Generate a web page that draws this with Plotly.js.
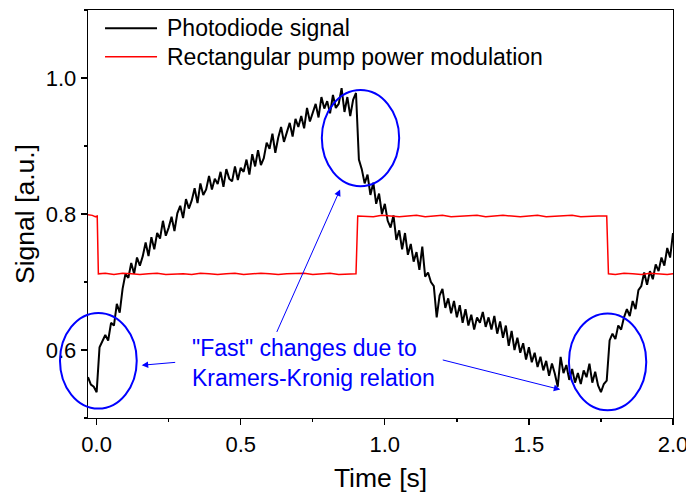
<!DOCTYPE html>
<html>
<head>
<meta charset="utf-8">
<script src="https://cdn.plot.ly/plotly-3.0.1.min.js"></script>
<style>
  html, body { margin: 0; padding: 0; background: #ffffff; }
  #chart { width: 686px; height: 493px; }
</style>
</head>
<body>
<div id="chart"></div>
<script>
// ---------- data ----------
const seriesNames = ["Photodiode signal", "Rectangular pump power modulation"];

const photoTime = [
  -0.03, -0.02, -0.01,
  0.00, 0.01, 0.02, 0.03, 0.04, 0.05, 0.06, 0.07, 0.08, 0.09,
  0.10, 0.11, 0.12, 0.13, 0.14, 0.15, 0.16, 0.17, 0.18, 0.19,
  0.20, 0.21, 0.22, 0.23, 0.24, 0.25, 0.26, 0.27, 0.28, 0.29,
  0.30, 0.31, 0.32, 0.33, 0.34, 0.35, 0.36, 0.37, 0.38, 0.39,
  0.40, 0.41, 0.42, 0.43, 0.44, 0.45, 0.46, 0.47, 0.48, 0.49,
  0.50, 0.51, 0.52, 0.53, 0.54, 0.55, 0.56, 0.57, 0.58, 0.59,
  0.60, 0.61, 0.62, 0.63, 0.64, 0.65, 0.66, 0.67, 0.68, 0.69,
  0.70, 0.71, 0.72, 0.73, 0.74, 0.75, 0.76, 0.77, 0.78, 0.79,
  0.80, 0.81, 0.82, 0.83, 0.84, 0.85, 0.86, 0.87, 0.88, 0.89,
  0.90, 0.91, 0.92, 0.93, 0.94, 0.95, 0.96, 0.97, 0.98, 0.99,
  1.00, 1.01, 1.02, 1.03, 1.04, 1.05, 1.06, 1.07, 1.08, 1.09,
  1.10, 1.11, 1.12, 1.13, 1.14, 1.15, 1.16, 1.17, 1.18, 1.19,
  1.20, 1.21, 1.22, 1.23, 1.24, 1.25, 1.26, 1.27, 1.28, 1.29,
  1.30, 1.31, 1.32, 1.33, 1.34, 1.35, 1.36, 1.37, 1.38, 1.39,
  1.40, 1.41, 1.42, 1.43, 1.44, 1.45, 1.46, 1.47, 1.48, 1.49,
  1.50, 1.51, 1.52, 1.53, 1.54, 1.55, 1.56, 1.57, 1.58, 1.59,
  1.60, 1.61, 1.62, 1.63, 1.64, 1.65, 1.66, 1.67, 1.68, 1.69,
  1.70, 1.71, 1.72, 1.73, 1.74, 1.75, 1.76, 1.77, 1.78, 1.79,
  1.80, 1.81, 1.82, 1.83, 1.84, 1.85, 1.86, 1.87, 1.88, 1.89,
  1.90, 1.91, 1.92, 1.93, 1.94, 1.95, 1.96, 1.97, 1.98, 1.99,
  2.00
];

const photoSignal = [
  0.560, 0.549, 0.546,
  0.538, 0.604, 0.612, 0.622, 0.614, 0.640, 0.636, 0.668, 0.655, 0.690,
  0.712, 0.706, 0.728, 0.712, 0.736, 0.724, 0.738, 0.758, 0.738, 0.766,
  0.748, 0.772, 0.764, 0.790, 0.768, 0.780, 0.796, 0.775, 0.801, 0.812,
  0.794, 0.822, 0.808, 0.820, 0.838, 0.816, 0.845, 0.828, 0.836, 0.856,
  0.836, 0.852, 0.844, 0.862, 0.840, 0.866, 0.852, 0.848, 0.870, 0.850,
  0.868, 0.862, 0.880, 0.858, 0.888, 0.870, 0.894, 0.872, 0.882, 0.905,
  0.896, 0.918, 0.890, 0.912, 0.928, 0.906, 0.920, 0.934, 0.914, 0.940,
  0.928, 0.944, 0.926, 0.956, 0.936, 0.950, 0.962, 0.942, 0.972, 0.955,
  0.966, 0.948, 0.975, 0.956, 0.962, 0.985, 0.950, 0.972, 0.944, 0.968,
  0.978, 0.880, 0.866, 0.845, 0.858, 0.828, 0.846, 0.815, 0.830, 0.800,
  0.815, 0.790, 0.780, 0.798, 0.762, 0.776, 0.748, 0.772, 0.740, 0.756,
  0.730, 0.744, 0.718, 0.752, 0.708, 0.714, 0.700, 0.694, 0.648, 0.680,
  0.690, 0.662, 0.676, 0.654, 0.672, 0.648, 0.666, 0.640, 0.660, 0.636,
  0.652, 0.630, 0.648, 0.640, 0.656, 0.634, 0.648, 0.630, 0.650, 0.624,
  0.642, 0.618, 0.636, 0.606, 0.628, 0.600, 0.618, 0.596, 0.610, 0.586,
  0.604, 0.582, 0.596, 0.575, 0.590, 0.570, 0.584, 0.562, 0.580, 0.565,
  0.546, 0.590, 0.566, 0.578, 0.556, 0.572, 0.552, 0.566, 0.550, 0.570,
  0.560, 0.580, 0.552, 0.568, 0.548, 0.538, 0.550, 0.555, 0.614, 0.624,
  0.616, 0.636, 0.630, 0.648, 0.660, 0.650, 0.672, 0.660, 0.688, 0.694,
  0.714, 0.696, 0.716, 0.704, 0.726, 0.716, 0.736, 0.724, 0.750, 0.736,
  0.772
];

const pumpTime = [
  -0.03, -0.015, -0.005, 0.002,
  0.006, 0.03, 0.06, 0.09, 0.12, 0.15, 0.18, 0.21, 0.24, 0.27, 0.30,
  0.33, 0.36, 0.39, 0.42, 0.45, 0.48, 0.51, 0.54, 0.57, 0.60,
  0.63, 0.66, 0.69, 0.72, 0.75, 0.78, 0.81, 0.84, 0.87, 0.90,
  0.906, 0.93, 0.96, 0.99, 1.02, 1.05, 1.08, 1.11, 1.14, 1.17,
  1.20, 1.23, 1.26, 1.29, 1.32, 1.35, 1.38, 1.41, 1.44, 1.47,
  1.50, 1.53, 1.56, 1.59, 1.62, 1.65, 1.68, 1.71, 1.74, 1.77,
  1.776, 1.80, 1.83, 1.86, 1.89, 1.92, 1.95, 1.98, 2.00
];

const pumpSignal = [
  0.799, 0.798, 0.796, 0.797,
  0.712, 0.713, 0.711, 0.713, 0.712, 0.711, 0.712, 0.713, 0.711, 0.712, 0.712,
  0.711, 0.713, 0.712, 0.711, 0.712, 0.713, 0.711, 0.712, 0.713, 0.712,
  0.711, 0.712, 0.712, 0.713, 0.711, 0.712, 0.713, 0.711, 0.712, 0.712,
  0.797, 0.797, 0.796, 0.798, 0.797, 0.796, 0.797, 0.798, 0.796, 0.797,
  0.798, 0.796, 0.797, 0.797, 0.798, 0.796, 0.797, 0.798, 0.797, 0.796,
  0.797, 0.798, 0.796, 0.797, 0.797, 0.798, 0.796, 0.797, 0.797, 0.797,
  0.712, 0.711, 0.713, 0.712, 0.711, 0.713, 0.712, 0.711, 0.712
];

const seriesColors = ["#000000", "#ff0000"];

const xTickVals = [0, 0.5, 1.0, 1.5, 2.0];
const xTickText = ["0.0", "0.5", "1.0", "1.5", "2.0"];
const yTickVals = [0.6, 0.8, 1.0];
const yTickText = ["0.6", "0.8", "1.0"];

const noteText = "\"Fast\" changes due to<br>Kramers-Kronig relation";

// ---------- chart ----------
const FONT = "Liberation Sans, Arial, Helvetica, sans-serif";
const BLUE = "#0000ff";

const traces = [
  {
    x: photoTime, y: photoSignal, name: seriesNames[0],
    type: "scatter", mode: "lines", showlegend: false,
    line: { color: seriesColors[0], width: 2 }
  },
  {
    x: pumpTime, y: pumpSignal, name: seriesNames[1],
    type: "scatter", mode: "lines", showlegend: false,
    line: { color: seriesColors[1], width: 1.5 }
  }
];

function ellipse(x0, x1, y0, y1) {
  return { type: "circle", xref: "paper", yref: "paper", x0, x1, y0, y1,
           line: { color: BLUE, width: 2 }, layer: "above" };
}

function arrow(x, y, ax, ay) {
  return { xref: "paper", yref: "paper", x, y, ax, ay, axref: "pixel", ayref: "pixel",
           text: "", showarrow: true, arrowhead: 2, arrowsize: 1.3, arrowwidth: 1,
           arrowcolor: BLUE, standoff: 0, startstandoff: 0 };
}

// legend drawn as key lines + real text labels
const legendRows = [0.9551, 0.8855];
const legendShapes = legendRows.map((y, i) => ({
  type: "line", xref: "paper", yref: "paper", x0: 0.0291, x1: 0.118, y0: y, y1: y,
  line: { color: seriesColors[i], width: i === 0 ? 2 : 1.5 }
}));
const legendLabels = legendRows.map((y, i) => ({
  xref: "paper", yref: "paper", x: 0.1317, y: y, xanchor: "left", yanchor: "middle",
  text: seriesNames[i], showarrow: false,
  font: { family: FONT, size: 23, color: "#000000" }
}));

const axisCommon = {
  showline: true, linecolor: "#000000", linewidth: 1.3, mirror: true,
  ticks: "outside", tickcolor: "#000000", tickwidth: 1.3, ticklen: 6,
  showgrid: false, zeroline: false, ticklabeloverflow: "allow",
  tickfont: { family: FONT, size: 22, color: "#000000" }
};

const layout = {
  width: 686, height: 493,
  margin: { l: 88, r: 13, t: 10, b: 75 },
  paper_bgcolor: "#ffffff", plot_bgcolor: "#ffffff",
  font: { family: FONT, color: "#000000" },
  showlegend: false,
  xaxis: Object.assign({}, axisCommon, {
    range: [-0.03, 2.0],
    tickvals: xTickVals, ticktext: xTickText,
    minor: { ticks: "outside", dtick: 0.25, tick0: 0, ticklen: 3, tickcolor: "#000000", tickwidth: 1.3 },
    title: { text: "Time [s]", font: { family: FONT, size: 26.5, color: "#000000" }, standoff: 14 }
  }),
  yaxis: Object.assign({}, axisCommon, {
    range: [0.5, 1.1],
    tickvals: yTickVals, ticktext: yTickText,
    minor: { ticks: "outside", dtick: 0.1, tick0: 0.5, ticklen: 3, tickcolor: "#000000", tickwidth: 1.3 },
    title: { text: "Signal [a.u.]", font: { family: FONT, size: 26.5, color: "#000000" }, standoff: 3 }
  }),
  shapes: [
    ellipse(-0.0479, 0.0833, 0.0231, 0.2575),
    ellipse(0.3997, 0.5319, 0.5683, 0.8038),
    ellipse(0.8221, 0.9543, 0.0189, 0.2561)
  ].concat(legendShapes),
  annotations: [
    {
      xref: "paper", yref: "paper", x: 0.1744, y: 0.1359,
      xanchor: "left", yanchor: "middle", align: "left",
      text: noteText, showarrow: false,
      font: { family: FONT, size: 23, color: BLUE }
    },
    arrow(0.0918, 0.1293, 35, -3),
    arrow(0.8073, 0.0697, -119, -30),
    arrow(0.4310, 0.5602, -64, 144)
  ].concat(legendLabels)
};

Plotly.newPlot("chart", traces, layout, { displayModeBar: false, staticPlot: true });
</script>
</body>
</html>
